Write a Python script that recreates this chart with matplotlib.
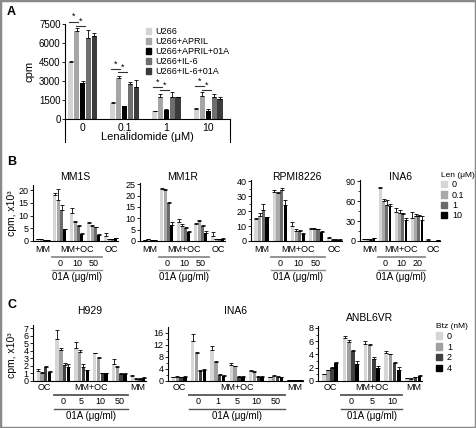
import numpy as np
import matplotlib
matplotlib.use("Agg")
import matplotlib.pyplot as plt
from matplotlib.patches import Rectangle
from matplotlib.transforms import blended_transform_factory

W, H = 476, 428
plt.rcParams['font.family'] = ['Liberation Sans', 'DejaVu Sans']
plt.rcParams['font.size'] = 6.5

# ---- panel A: U266 proliferation vs lenalidomide ----
len_doses = ["0", "0.1", "1", "10"]
a_series = ["U266", "U266+APRIL", "U266+APRIL+01A", "U266+IL-6", "U266+IL-6+01A"]
a_vals = [
    [4500, 1250, 600, 800],
    [6950, 3200, 1750, 1850],
    [2850, 1000, 750, 600],
    [6400, 2750, 1750, 1700],
    [6550, 2550, 1700, 1600],
]
a_err = [
    [60, 100, 30, 100],
    [220, 200, 200, 300],
    [160, 40, 60, 200],
    [600, 200, 400, 250],
    [200, 500, 50, 100],
]
a_colors = ["#d4d4d4", "#a6a6a6", "#000000", "#6e6e6e", "#3c3c3c"]
# significance bracket heights (cpm): [U266 vs APRIL, APRIL vs APRIL+01A]
a_sig_y = [[7680, 7340], [3950, 3700], [2530, 2290], [2600, 2290]]

# ---- panel B: MM lines +/- OC, 01A and lenalidomide ----
len_labels = ["0", "0.1", "1", "10"]
b_colors = ["#d6d6d6", "#a9a9a9", "#6b6b6b", "#000000"]

mm1s_doses = ["0", "10", "50"]
mm1s_vals = [[0.7, 18.0, 11.0, 7.0, 1.8],
             [0.6, 16.0, 7.5, 6.0, 0.8],
             [0.4, 12.0, 6.0, 5.5, 0.7],
             [0.3, 4.7, 2.8, 2.5, 1.2]]
mm1s_err = [[0.1, 1.0, 1.8, 0.5, 1.5],
            [0.1, 4.5, 0.3, 0.2, 0.1],
            [0.05, 2.0, 0.3, 0.1, 0.05],
            [0.05, 0.1, 0.2, 0.1, 0.1]]

mm1r_doses = ["0", "10", "50"]
mm1r_vals = [[0.5, 23.0, 8.5, 7.5, 2.0],
             [0.8, 22.5, 6.5, 8.8, 0.8],
             [0.5, 16.5, 5.5, 6.8, 0.8],
             [0.3, 7.0, 4.0, 3.5, 1.0]]
mm1r_err = [[0.1, 0.1, 1.0, 0.4, 1.8],
            [0.1, 0.5, 1.0, 0.3, 0.1],
            [0.1, 0.7, 0.5, 0.3, 0.1],
            [0.05, 1.5, 0.3, 1.0, 0.1]]

rpmi_doses = ["0", "10", "50"]
rpmi_vals = [[15, 33, 10, 8, 2],
             [17, 32, 7, 8, 1],
             [21, 34, 7, 8, 1],
             [16, 24, 5, 6, 1]]
rpmi_err = [[0.5, 1, 3, 0.5, 1],
            [1.5, 1, 1, 0.5, 0.1],
            [4, 1.5, 0.5, 0.2, 0.1],
            [0.2, 3.5, 0.3, 0.5, 0.1]]

ina6b_doses = ["0", "10", "20"]
ina6b_vals = [[2.5, 80, 44, 35, 1.0],
              [2.5, 60, 42, 38, 0.3],
              [2.0, 55, 40, 37, 0.3],
              [4.5, 53, 31, 32, 0.8]]
ina6b_err = [[0.3, 2, 6, 8, 1.5],
             [0.3, 4, 5, 2, 0.1],
             [0.3, 7, 2, 2, 0.1],
             [0.5, 3, 4, 5, 0.3]]

# ---- panel C: MM lines +/- OC, 01A and bortezomib ----
btz_labels = ["0", "1", "2", "4"]
c_colors = ["#d6d6d6", "#a0a0a0", "#404040", "#000000"]

h929_doses = ["0", "5", "10", "50"]
h929_vals = [[1.3, 5.5, 4.3, 3.7, 2.2, 0.6],
             [1.1, 4.1, 3.8, 3.0, 1.9, 0.3],
             [1.8, 2.1, 1.8, 1.0, 0.9, 0.3],
             [1.2, 1.9, 1.4, 1.0, 0.9, 0.4]]
h929_err = [[0.3, 1.2, 0.9, 0.05, 0.7, 0.2],
            [0.05, 0.2, 0.3, 0.2, 0.1, 0.05],
            [0.2, 0.3, 0.4, 0.1, 0.1, 0.05],
            [0.1, 0.4, 0.1, 0.1, 0.1, 0.1]]

ina6c_doses = ["0", "1", "5", "10", "50"]
ina6c_vals = [[1.2, 13.2, 10.5, 5.5, 3.3, 1.3, 0.3],
              [1.5, 9.3, 6.5, 5.0, 3.0, 1.7, 0.3],
              [1.3, 3.2, 2.0, 1.5, 1.5, 1.5, 0.4],
              [1.5, 3.6, 1.8, 1.5, 1.5, 1.2, 0.4]]
ina6c_err = [[0.1, 2.5, 1.2, 0.5, 0.5, 0.1, 0.05],
             [0.1, 0.3, 0.2, 0.1, 0.3, 0.3, 0.05],
             [0.1, 0.5, 0.2, 0.1, 0.1, 0.1, 0.05],
             [0.1, 0.3, 0.2, 0.1, 0.1, 0.1, 0.05]]

anbl_doses = ["0", "5", "10"]
anbl_vals = [[1.05, 6.5, 5.6, 4.3, 0.4],
             [1.6, 5.9, 5.4, 4.0, 0.35],
             [1.9, 4.6, 3.3, 2.7, 0.6],
             [2.7, 2.55, 2.0, 1.7, 0.8]]
anbl_err = [[0.05, 0.3, 0.5, 0.2, 0.05],
            [0.1, 0.3, 0.2, 0.1, 0.05],
            [0.2, 0.05, 0.3, 0.2, 0.05],
            [0.2, 0.4, 0.3, 0.4, 0.1]]

fig = plt.figure(figsize=(W / 100, H / 100), dpi=100)


def fy(py):
    return 1 - py / H


def add_axes(left, top, right, bottom):
    return fig.add_axes([left / W, 1 - bottom / H, (right - left) / W, (bottom - top) / H])


def style(ax):
    for s in ("top", "right"):
        ax.spines[s].set_visible(False)
    for s in ("left", "bottom"):
        ax.spines[s].set_linewidth(0.8)
    ax.tick_params(axis="y", direction="out", length=2, width=0.6, pad=1.2, labelsize=6.5)
    ax.tick_params(axis="y", which="minor", length=1.2, width=0.5)


def grouped_bars(ax, vals, errs, colors, pitch):
    n = len(vals)
    x = np.arange(len(vals[0]))
    for i, (v, e, c) in enumerate(zip(vals, errs, colors)):
        pos = x + (i - (n - 1) / 2) * pitch
        ax.bar(pos, v, width=pitch * 0.88, color=c, zorder=2)
        ax.errorbar(pos, v, yerr=[np.zeros(len(v)), e], fmt="none", ecolor="black",
                    elinewidth=0.6, capsize=1.1, capthick=0.6, zorder=3)
    return x


# ================= A =================
axA = add_axes(65, 24, 230, 119)
style(axA)
axA.tick_params(axis="y", labelsize=7)
xA = grouped_bars(axA, a_vals, a_err, a_colors, 0.14)
axA.set_xlim(-0.42, 3.52)
axA.set_ylim(0, 7500)
axA.set_yticks([0, 1500, 3000, 4500, 6000, 7500])
axA.set_xticks(xA)
axA.set_xticklabels(len_doses, fontsize=7.5)
axA.tick_params(axis="x", length=0, pad=3)
axA.set_ylabel("cpm", fontsize=8, labelpad=3)
for xe in (0, 1):
    axA.plot([xe, xe], [0, -0.24], transform=axA.transAxes, color="black", lw=0.8, clip_on=False)
fig.text(147 / W, fy(137), "Lenalidomide (\u03bcM)", ha="center", va="center", fontsize=8)
for g, (y1, y2) in enumerate(a_sig_y):
    b0, b1, b2 = g - 2 * 0.14, g - 0.14, g
    axA.plot([b0 - 0.04, b1 + 0.04], [y1, y1], color="#333333", lw=0.8, clip_on=False)
    axA.plot([b1 - 0.02, b2 + 0.06], [y2, y2], color="#333333", lw=0.8, clip_on=False)
    axA.text((b0 + b1) / 2, y1 + 40, "*", ha="center", va="bottom", fontsize=6.5, clip_on=False)
    axA.text((b1 + b2) / 2 + 0.02, y2 + 40, "*", ha="center", va="bottom", fontsize=6.5, clip_on=False)
hA = [Rectangle((0, 0), 1, 1, color=c) for c in a_colors]
fig.legend(hA, a_series, loc="upper left", bbox_to_anchor=(146 / W, fy(27)), frameon=False,
           fontsize=6.5, handlelength=0.6, handleheight=0.6, handletextpad=0.4,
           labelspacing=0.12, borderpad=0, borderaxespad=0)


# ================= B / C helpers =================
def cell_panel(left, right, top, bottom, vals, errs, colors, ymax, yticks, title, title_y,
               cats, cat_x, doses, dose_x0, rows, line_color, minor=None):
    ax = add_axes(left, top, right, bottom)
    style(ax)
    grouped_bars(ax, vals, errs, colors, 0.2)
    n = len(vals[0])
    ax.set_xlim(-0.58, n - 1 + 0.42)
    ax.set_ylim(0, ymax)
    ax.set_yticks(yticks)
    if minor is not None:
        ax.set_yticks(minor, minor=True)
    ax.set_xticks([])
    fig.text((left + right) / 2 / W, fy(title_y), title, ha="center", va="center", fontsize=7.5)
    tr = blended_transform_factory(ax.transData, fig.transFigure)
    cat_y, line1_y, dose_y, line2_y, lab_y = rows
    for lab, xc in zip(cats, cat_x):
        ax.text(xc, fy(cat_y), lab, transform=tr, ha="center", va="center", fontsize=6.5)
    xd = np.arange(len(doses)) + dose_x0
    for d, xc in zip(doses, xd):
        ax.text(xc, fy(dose_y), d, transform=tr, ha="center", va="center", fontsize=6.5)
    x0, x1 = xd[0] - 0.48, xd[-1] + 0.48
    ax.plot([x0, x1], [fy(line1_y)] * 2, transform=tr, color=line_color, lw=1.3, clip_on=False)
    ax.plot([x0, x1], [fy(line2_y)] * 2, transform=tr, color=line_color, lw=1.0, clip_on=False)
    ax.text((x0 + x1) / 2, fy(lab_y), "01A (\u03bcg/ml)", transform=tr, ha="center",
            va="center", fontsize=7)
    return ax


b_rows = (250, 256.5, 263, 269.5, 277)
cell_panel(33, 118, 185, 241, mm1s_vals, mm1s_err, b_colors, 22, [0, 5, 10, 15, 20], "MM1S", 177,
           ["MM", "MM+OC", "OC"], [0, 2, 4], mm1s_doses, 1, b_rows, "#8c8c8c")
cell_panel(140, 225, 183, 241, mm1r_vals, mm1r_err, b_colors, 25.5, [0, 5, 10, 15, 20, 25], "MM1R", 177,
           ["MM", "MM+OC", "OC"], [0, 2, 4], mm1r_doses, 1, b_rows, "#8c8c8c")
cell_panel(251, 342, 180, 241, rpmi_vals, rpmi_err, b_colors, 41, [0, 10, 20, 30, 40], "RPMI8226", 177,
           ["MM", "MM+OC", "OC"], [0, 2, 4], rpmi_doses, 1, b_rows, "#8c8c8c", minor=[5, 15, 25, 35])
cell_panel(360, 440, 180, 241, ina6b_vals, ina6b_err, b_colors, 92, [0, 30, 60, 90], "INA6", 177,
           ["MM", "MM+OC", "OC"], [0, 2, 4], ina6b_doses, 1, b_rows, "#8c8c8c", minor=[15, 45, 75])
hB = [Rectangle((0, 0), 1, 1, color=c) for c in b_colors]
fig.legend(hB, len_labels, loc="upper left", bbox_to_anchor=(441 / W, fy(172)), frameon=False,
           title="Len (\u03bcM)", title_fontsize=6, fontsize=6.5, alignment="left",
           handlelength=0.7, handleheight=0.7, handletextpad=0.5, labelspacing=0.15,
           borderpad=0, borderaxespad=0)

c_rows = (387, 395, 402, 408.5, 416)
cell_panel(33, 146, 325, 381, h929_vals, h929_err, c_colors, 7.4, list(range(8)), "H929", 311,
           ["OC", "MM+OC", "MM"], [0, 2.5, 5], h929_doses, 1, c_rows, "#555555")
cell_panel(168, 303, 327, 381, ina6c_vals, ina6c_err, c_colors, 18, [0, 4, 8, 12, 16], "INA6", 311,
           ["OC", "MM+OC", "MM"], [0, 3, 6], ina6c_doses, 1, c_rows, "#555555", minor=[2, 6, 10, 14])
cell_panel(318, 422, 326, 381, anbl_vals, anbl_err, c_colors, 8.3, [0, 2, 4, 6, 8], "ANBL6VR", 318,
           ["OC", "MM+OC", "MM"], [0, 2, 4], anbl_doses, 1, c_rows, "#555555", minor=[1, 3, 5, 7])
hC = [Rectangle((0, 0), 1, 1, color=c) for c in c_colors]
fig.legend(hC, btz_labels, loc="upper left", bbox_to_anchor=(436 / W, fy(323)), frameon=False,
           title="Btz (nM)", title_fontsize=6, fontsize=6.5, alignment="left",
           handlelength=0.7, handleheight=0.7, handletextpad=0.5, labelspacing=0.2,
           borderpad=0, borderaxespad=0)

# y labels and panel letters
fig.text(12 / W, fy(213), "cpm, x10\u00b3", rotation=90, ha="center", va="center", fontsize=7.5)
fig.text(12 / W, fy(355), "cpm, x10\u00b3", rotation=90, ha="center", va="center", fontsize=7.5)
for letter, py in (("A", 12), ("B", 162), ("C", 305)):
    fig.text(7 / W, fy(py), letter, ha="left", va="center", fontsize=9, fontweight="bold")

fig.add_artist(Rectangle((0, 0), 1, 1, transform=fig.transFigure, fill=False,
                         edgecolor="#8a8a8a", lw=2.5))

fig.savefig("out.png", dpi=100)
